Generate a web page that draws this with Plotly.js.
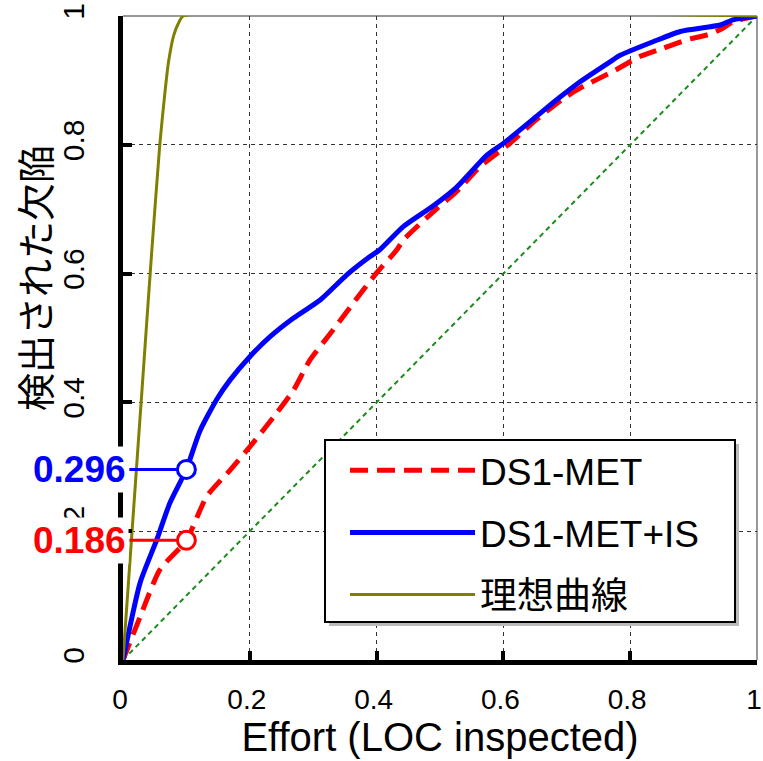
<!DOCTYPE html>
<html>
<head>
<meta charset="utf-8">
<script src="https://cdn.plot.ly/plotly-3.0.1.min.js"></script>
<style>html,body{margin:0;padding:0;background:#fff;}#chart{width:763px;height:761px;}</style>
</head>
<body>
<div id="chart"></div>
<script>
// Data
const diagX = [0, 1];
const diagY = [0, 1];

const metX = [0, 0.027, 0.058, 0.1, 0.132, 0.169, 0.2, 0.242, 0.269, 0.295, 0.331, 0.363, 0.4, 0.432, 0.442, 0.495, 0.526, 0.563, 0.61, 0.652, 0.692, 0.721, 0.773, 0.815, 0.852, 0.889, 0.926, 0.946, 0.962, 1];
const metY = [0, 0.067, 0.14, 0.186, 0.254, 0.295, 0.331, 0.383, 0.419, 0.466, 0.512, 0.554, 0.601, 0.637, 0.652, 0.701, 0.727, 0.766, 0.802, 0.839, 0.87, 0.888, 0.914, 0.937, 0.95, 0.963, 0.972, 0.981, 0.991, 1];

const metIsX = [0, 0.027, 0.053, 0.074, 0.1, 0.121, 0.148, 0.169, 0.2, 0.232, 0.269, 0.311, 0.353, 0.389, 0.405, 0.442, 0.489, 0.526, 0.574, 0.601, 0.652, 0.684, 0.721, 0.773, 0.784, 0.836, 0.879, 0.942, 0.962, 1];
const metIsY = [0, 0.12, 0.186, 0.244, 0.296, 0.355, 0.405, 0.435, 0.471, 0.502, 0.531, 0.559, 0.598, 0.626, 0.637, 0.673, 0.705, 0.734, 0.784, 0.803, 0.844, 0.87, 0.898, 0.932, 0.939, 0.96, 0.976, 0.986, 0.994, 1];

const idealX = [0, 0.02, 0.03, 0.045, 0.058, 0.066, 0.072, 0.08, 0.088, 0.095, 1];
const idealY = [0, 0.28, 0.42, 0.63, 0.8, 0.88, 0.93, 0.97, 0.99, 1, 1];

const seriesNames = ['DS1-MET', 'DS1-MET+IS', '理想曲線'];
const markEffort = 0.1;
const markMet = 0.186;
const markMetIs = 0.296;
const labelX = 0.01;

const tickVals = [0, 0.2, 0.4, 0.6, 0.8, 1];
const tickText = ['0', '0.2', '0.4', '0.6', '0.8', '1'];

const xTitle = 'Effort (LOC inspected)';
const yTitle = '検出された欠陥';

const FONT = 'Liberation Sans, Arial, Noto Sans CJK JP, sans-serif';

const traces = [
  {x: diagX, y: diagY, mode: 'lines', showlegend: false, hoverinfo: 'skip',
   line: {color: '#1a8c1a', width: 2, dash: '5px,4px'}},
  {x: metX, y: metY, mode: 'lines', name: seriesNames[0], legendgroup: 'a',
   line: {color: '#ff0000', width: 5, dash: '18px,9px', shape: 'spline', smoothing: 0.6}},
  {x: metIsX, y: metIsY, mode: 'lines', name: seriesNames[1], legendgroup: 'b',
   line: {color: '#0000ff', width: 5, shape: 'spline', smoothing: 0.6}},
  {x: idealX, y: idealY, mode: 'lines', name: seriesNames[2], legendgroup: 'c',
   line: {color: '#808000', width: 3, shape: 'spline', smoothing: 0.5}},
  {x: [labelX, markEffort], y: [markMetIs, markMetIs], mode: 'lines', showlegend: false,
   line: {color: '#0000ff', width: 3}},
  {x: [labelX, markEffort], y: [markMet, markMet], mode: 'lines', showlegend: false,
   line: {color: '#ff0000', width: 3}},
  {x: [markEffort], y: [markMetIs], mode: 'markers', showlegend: false,
   marker: {symbol: 'circle', size: 18, color: '#ffffff', line: {color: '#0000ff', width: 3}}},
  {x: [markEffort], y: [markMet], mode: 'markers', showlegend: false,
   marker: {symbol: 'circle', size: 18, color: '#ffffff', line: {color: '#ff0000', width: 3}}}
];

const layout = {
  width: 763, height: 761,
  margin: {l: 123, r: 6, t: 16, b: 101, pad: 0},
  paper_bgcolor: '#ffffff', plot_bgcolor: '#ffffff',
  font: {family: FONT, color: '#000000'},
  showlegend: true,
  xaxis: {
    range: [0, 1], tickvals: tickVals, ticktext: tickText,
    showline: true, linecolor: '#000000', linewidth: 5,
    ticks: 'inside', ticklen: 9, tickwidth: 4, tickcolor: '#000000',
    showgrid: true, gridcolor: '#333333', gridwidth: 1, griddash: '4px,4px',
    zeroline: false, ticklabelstandoff: 10, ticklabeloverflow: 'allow', ticklabelshift: -3,
    tickfont: {family: FONT, size: 28, color: '#000000'},
    title: {text: xTitle, font: {family: FONT, size: 40, color: '#000000'}, standoff: 6}
  },
  yaxis: {
    range: [0, 1], tickvals: tickVals, ticktext: tickText, tickangle: -90,
    showline: true, linecolor: '#000000', linewidth: 5,
    ticks: 'inside', ticklen: 9, tickwidth: 4, tickcolor: '#000000',
    showgrid: true, gridcolor: '#333333', gridwidth: 1, griddash: '4px,4px',
    zeroline: false, ticklabelstandoff: 22, ticklabeloverflow: 'allow',
    tickfont: {family: FONT, size: 30, color: '#000000'}
  },
  legend: {
    x: 0.3502, y: 0.342, xanchor: 'left', yanchor: 'top',
    bgcolor: 'rgba(0,0,0,0)', borderwidth: 0,
    font: {family: FONT, size: 37, color: '#000000'},
    itemwidth: 125, tracegroupgap: 11, traceorder: 'grouped'
  },
  shapes: [
    {type: 'line', xref: 'paper', yref: 'paper', x0: 0, x1: 1, y0: 1, y1: 1, layer: 'below',
     line: {color: '#999999', width: 2}},
    {type: 'line', xref: 'paper', yref: 'paper', x0: 1, x1: 1, y0: 0, y1: 1, layer: 'below',
     line: {color: '#999999', width: 2}},
    {type: 'rect', xref: 'paper', yref: 'paper', x0: 0.3249, x1: 0.9716, y0: 0.0528, y1: 0.3354, layer: 'above',
     fillcolor: '#bbbbbb', line: {width: 0}},
    {type: 'rect', xref: 'paper', yref: 'paper', x0: 0.3186, x1: 0.9653, y0: 0.059, y1: 0.3416, layer: 'above',
     fillcolor: '#ffffff', line: {color: '#000000', width: 2}}
  ],
  annotations: [
    {x: -0.142, y: 0.593, xref: 'paper', yref: 'paper', xanchor: 'center', yanchor: 'middle',
     text: yTitle, textangle: -90, showarrow: false,
     font: {family: 'Noto Sans CJK JP, sans-serif', size: 38, color: '#000000'}},
    {x: labelX, y: markMetIs, xref: 'x', yref: 'y', xanchor: 'right', yanchor: 'middle',
     text: '<b>0.296</b>', showarrow: false, bgcolor: '#ffffff', borderpad: 2,
     font: {family: FONT, size: 37, color: '#0000ff'}},
    {x: labelX, y: markMet, xref: 'x', yref: 'y', xanchor: 'right', yanchor: 'middle',
     text: '<b>0.186</b>', showarrow: false, bgcolor: '#ffffff', borderpad: 2,
     font: {family: FONT, size: 37, color: '#ff0000'}}
  ]
};

Plotly.newPlot('chart', traces, layout, {displayModeBar: false, staticPlot: true});
</script>
</body>
</html>
